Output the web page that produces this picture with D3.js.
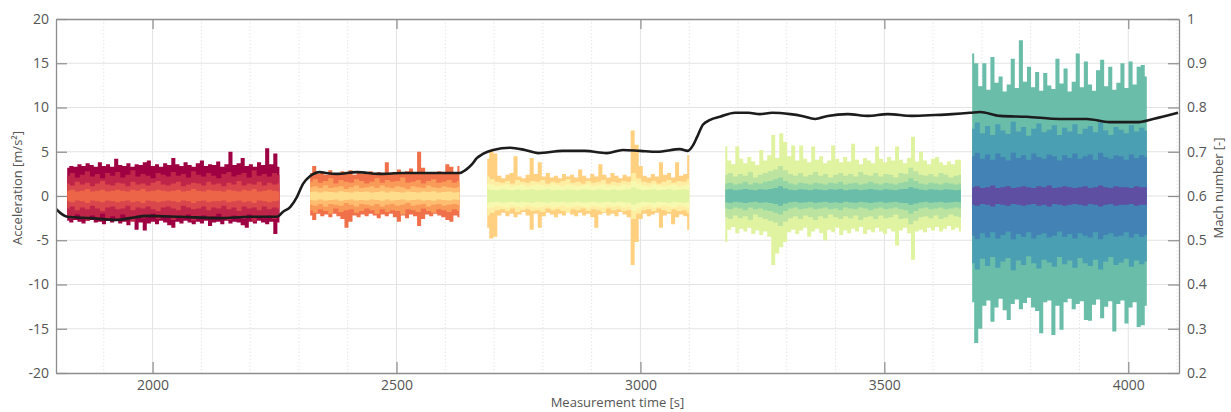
<!DOCTYPE html>
<html>
<head>
<meta charset="utf-8">
<script src="https://cdn.jsdelivr.net/npm/d3@7"></script>
<style>
  html, body { margin: 0; padding: 0; background: #fff; }
  svg text { font-family: "Open Sans", "Noto Sans", sans-serif; fill: #555; }
</style>
</head>
<body>
<svg id="chart" width="1231" height="412"></svg>
<script>
// ---- axes ----
const timeTicks  = [2000, 2500, 3000, 3500, 4000];
const accelTicks = [-20, -15, -10, -5, 0, 5, 10, 15, 20];
const machTicks  = [0.2, 0.3, 0.4, 0.5, 0.6, 0.7, 0.8, 0.9, 1];

// ---- acceleration records: start/end time of each run [s] ----
const b1Span = [1825, 2260];
const b2Span = [2323, 2629];
const b3Span = [2686, 3100];
const b4Span = [3174, 3657];
const b5Span = [3680, 4038];

// outer sensor: upper / lower envelope [m/s²]
const b1Upper = [3.2,3.4,3.3,3.6,3.4,3.7,3.5,3.3,3.8,3.4,3.6,3.3,4.2,3.5,3.4,3.7,3.3,3.6,3.5,3.8,4.0,3.4,3.6,3.3,3.7,3.5,4.3,3.6,3.4,3.8,3.5,3.3,3.7,4.0,3.4,3.6,3.5,3.9,3.3,3.6,5.0,3.5,3.7,4.3,3.4,3.6,3.3,3.8,3.5,5.4,3.6,4.8,3.3];
const b1Lower = [-2.8,-3.0,-2.7,-2.9,-3.1,-2.8,-2.7,-3.0,-2.9,-3.2,-2.8,-3.0,-2.7,-3.1,-2.9,-3.3,-2.8,-3.8,-3.0,-3.9,-3.1,-2.9,-3.2,-2.8,-3.0,-3.3,-3.6,-2.9,-3.1,-2.8,-3.0,-3.2,-2.9,-3.1,-2.8,-3.4,-3.0,-2.9,-3.2,-2.8,-3.1,-2.9,-3.0,-3.3,-3.6,-2.9,-3.1,-2.8,-3.0,-3.2,-2.9,-4.3,-3.0];

const b2Upper = [2.6,3.4,2.5,2.7,2.4,2.9,2.6,2.5,2.8,2.6,2.9,2.4,2.7,2.5,2.6,2.8,2.5,2.7,2.4,3.8,2.6,2.7,3.0,2.5,2.8,3.1,2.6,5.0,3.2,2.6,2.7,2.5,2.8,2.6,3.6,3.3,2.7,3.4];
const b2Lower = [-2.2,-2.7,-2.0,-2.3,-2.1,-2.4,-2.0,-2.3,-2.6,-3.6,-2.9,-2.2,-2.4,-2.1,-2.3,-2.0,-2.2,-2.5,-2.1,-2.3,-2.0,-2.4,-2.9,-2.2,-2.5,-2.1,-2.3,-3.4,-2.6,-2.1,-2.3,-2.0,-2.2,-2.4,-2.7,-2.9,-2.2,-2.4];

const b3Upper = [4.2,5.2,4.8,2.3,2.0,2.4,2.6,4.5,2.2,2.0,2.4,4.3,2.5,3.8,2.2,2.6,2.1,2.3,2.0,2.5,2.2,2.4,2.1,3.0,2.3,2.0,2.5,2.2,3.6,2.4,2.1,2.6,2.3,2.0,2.4,2.2,7.4,5.8,3.4,2.3,2.1,2.5,2.2,3.8,2.4,2.6,2.1,3.8,2.3,2.5,4.6];
const b3Lower = [-3.6,-4.8,-4.6,-2.2,-1.9,-2.3,-2.0,-2.4,-2.1,-1.8,-2.2,-3.8,-2.0,-3.6,-2.3,-1.9,-2.1,-2.4,-2.0,-2.2,-1.8,-2.1,-2.3,-1.9,-2.2,-2.0,-2.4,-3.6,-2.1,-1.9,-2.2,-2.0,-2.3,-1.8,-2.1,-2.4,-7.8,-5.2,-2.6,-2.0,-2.3,-2.1,-1.9,-3.6,-2.2,-2.0,-3.2,-2.4,-2.1,-2.3,-3.8];

const b4Upper = [5.6,4.0,3.6,5.6,4.2,3.7,4.4,3.9,3.5,5.2,4.0,4.6,6.9,4.3,7.1,6.1,4.5,5.7,4.0,5.7,4.2,3.8,5.6,4.1,4.5,3.7,4.0,5.7,4.2,3.8,4.4,3.9,5.9,4.1,3.6,4.3,4.0,3.7,5.6,4.2,3.8,4.4,4.0,5.6,4.1,3.7,4.3,6.7,3.9,5.0,4.0,3.6,4.2,4.4,3.8,3.5,3.9,3.6,4.1,4.1];
const b4Lower = [-5.2,-3.8,-3.5,-4.2,-3.7,-4.0,-3.6,-4.3,-3.9,-4.4,-4.0,-4.6,-7.8,-6.5,-5.8,-5.2,-4.1,-3.8,-4.3,-3.9,-3.6,-4.6,-4.0,-3.7,-4.2,-5.0,-3.8,-4.1,-3.6,-4.4,-3.9,-4.2,-3.7,-4.0,-3.5,-4.3,-3.8,-4.1,-3.6,-4.0,-4.3,-3.7,-4.0,-5.6,-3.9,-3.6,-4.2,-7.2,-4.0,-3.8,-4.1,-3.6,-3.9,-3.5,-4.0,-3.7,-3.4,-3.8,-3.6,-4.0];

const b5Upper = [16.1,15.0,12.4,15.0,12.0,15.7,12.8,13.5,11.8,12.6,15.5,12.2,17.6,12.9,14.6,12.3,14.0,11.9,13.9,12.5,12.1,15.5,12.7,14.4,11.8,12.9,16.1,12.3,15.2,12.6,11.9,14.2,15.4,12.4,14.6,12.0,12.8,15.0,12.2,15.2,12.6,14.6,14.8,13.5];
const b5Lower = [-12.0,-16.6,-15.0,-12.4,-11.8,-14.2,-12.6,-11.6,-12.9,-14.0,-12.2,-11.7,-12.8,-12.1,-11.5,-12.6,-13.0,-15.5,-12.0,-11.8,-15.7,-12.4,-15.1,-12.0,-11.6,-12.8,-12.2,-11.9,-14.0,-14.1,-12.3,-11.7,-13.8,-12.5,-11.9,-15.3,-12.2,-11.8,-14.4,-12.6,-12.0,-14.8,-14.6,-12.4];

// remaining sensors of each run: half-width of their band [m/s²]
const b1Inner = [
  [2.3,2.6,2.1,2.4,2.8,2.2,2.5,2.0,2.6,2.3,2.7,2.1,2.4,2.9,2.2,2.5,2.3,2.0,2.6,2.4,2.2,2.7,2.3,2.5,2.1,2.8,2.4,2.2,2.6,2.3,2.0,2.5,2.7,2.2,2.4,2.6,2.1,2.9,2.3,2.5,2.2,2.6,2.4],
  [1.4,1.2,1.6,1.3,1.5,1.1,1.4,1.7,1.3,1.2,1.5,1.4,1.1,1.6,1.3,1.4,1.2,1.5,1.7,1.3,1.2,1.4,1.6,1.1,1.3,1.5,1.4,1.2,1.6,1.3,1.4,1.1,1.5,1.3,1.7,1.2,1.4,1.3,1.6,1.2,1.5,1.3,1.4],
  [0.6,0.7,0.5,0.6,0.8,0.5,0.6,0.7,0.5,0.6,0.7,0.6,0.5,0.7,0.6,0.8,0.5,0.6,0.7,0.6,0.5,0.6,0.7,0.5,0.6,0.8,0.6,0.5,0.7,0.6,0.6,0.5,0.7,0.6,0.5,0.7,0.6,0.8,0.5,0.6,0.7,0.6,0.5]
];
const b2Inner = [
  [1.6,1.9,1.5,1.7,2.0,1.4,1.8,1.6,1.5,1.9,1.7,1.4,1.6,2.0,1.5,1.8,1.6,1.7,2.1,1.5,1.6,1.8,1.4,1.7,1.9,1.5,1.6,1.8,1.5,1.7],
  [1.0,1.1,0.9,1.2,0.9,1.0,1.1,0.8,1.0,1.2,0.9,1.0,1.1,0.9,1.2,1.0,0.9,1.1,1.0,0.8,1.1,1.0,0.9,1.2,1.0,0.9,1.1,1.0,0.9,1.0],
  [0.45,0.5,0.4,0.5,0.45,0.4,0.55,0.45,0.4,0.5,0.45,0.5,0.4,0.45,0.55,0.4,0.5,0.45,0.4,0.5,0.45,0.4,0.5,0.45,0.55,0.4,0.45,0.5,0.4,0.45]
];
const b3Inner = [
  [2.2,1.9,1.6,1.5,1.7,1.4,1.8,1.6,1.5,1.7,1.6,1.8,1.4,1.6,1.5,1.7,1.9,1.5,1.6,1.4,1.7,1.5,1.6,1.8,1.4,1.6,1.5,1.7,1.6,2.6,2.0,1.6,1.5,1.7,1.4,1.6,1.8,1.5,1.7,1.6,1.9],
  [1.4,1.3,1.1,1.2,1.3,1.1,1.2,1.3,1.1,1.2,1.3,1.2,1.1,1.3,1.2,1.1,1.3,1.2,1.1,1.2,1.3,1.1,1.2,1.3,1.1,1.2,1.1,1.3,1.2,1.7,1.4,1.2,1.1,1.3,1.2,1.1,1.2,1.3,1.1,1.2,1.3],
  [0.75,0.7,0.65,0.75,0.7,0.65,0.75,0.65,0.7,0.75,0.65,0.7,0.75,0.65,0.7,0.65,0.75,0.7,0.65,0.75,0.7,0.65,0.75,0.7,0.65,0.75,0.65,0.7,0.75,0.95,0.75,0.65,0.7,0.75,0.65,0.7,0.75,0.65,0.7,0.75,0.7]
];
const b4Inner = [
  [2.4,2.6,2.2,2.5,2.3,2.7,2.1,2.4,2.6,2.8,3.0,3.4,2.9,2.5,2.3,2.6,2.2,2.4,2.7,2.3,2.5,2.1,2.4,2.6,2.3,2.5,2.2,2.7,2.4,2.3,2.6,2.2,2.5,2.4,2.1,2.6,2.5,3.2,2.8,2.4,2.3,2.5,2.2,2.6,2.4,2.1,2.3,2.4],
  [1.4,1.5,1.3,1.4,1.6,1.3,1.5,1.4,1.6,1.7,1.9,2.1,1.7,1.4,1.3,1.5,1.4,1.3,1.5,1.4,1.3,1.5,1.4,1.6,1.3,1.4,1.5,1.3,1.4,1.6,1.4,1.3,1.5,1.4,1.3,1.5,1.6,2.0,1.7,1.4,1.3,1.5,1.4,1.3,1.5,1.4,1.3,1.4],
  [0.7,0.75,0.65,0.7,0.8,0.7,0.65,0.75,0.7,0.8,0.9,1.1,0.85,0.7,0.65,0.75,0.7,0.65,0.75,0.7,0.65,0.75,0.7,0.8,0.65,0.7,0.75,0.65,0.7,0.8,0.7,0.65,0.75,0.7,0.65,0.75,0.8,1.0,0.85,0.7,0.65,0.75,0.7,0.65,0.75,0.7,0.65,0.7]
];
const b5Inner = [
  [7.6,8.3,7.1,7.9,6.9,8.1,7.4,7.0,8.4,7.3,7.8,6.8,7.6,8.2,7.2,7.5,8.0,6.9,7.7,7.3,8.1,7.0,7.6,7.9,7.2,8.3,7.4,6.9,7.8,7.5,7.1,8.0,7.3,7.7,7.4],
  [4.5,4.9,4.2,4.7,4.1,4.8,4.4,4.0,4.9,4.3,4.6,4.1,4.8,4.4,4.2,4.7,4.5,4.0,4.6,4.3,4.8,4.2,4.5,4.7,4.1,4.9,4.4,4.2,4.6,4.5,4.1,4.7,4.3,4.6,4.4],
  [1.0,1.1,0.9,1.0,1.2,0.9,1.0,1.1,0.9,1.0,1.1,1.0,0.9,1.1,1.0,1.2,0.9,1.0,1.1,1.0,0.9,1.0,1.1,0.9,1.0,1.2,1.0,0.9,1.1,1.0,1.0,0.9,1.1,1.0,1.0]
];

// ---- free-stream Mach number ----
const machTime  = [1802,1814,1825,1872,1927,1954,1989,2056,2138,2200,2255,2267,2282,2296,2308,2323,2343,2355,2378,2419,2466,2513,2569,2630,2642,2655,2665,2677,2698,2733,2763,2790,2841,2886,2931,2964,2999,3034,3081,3097,3108,3116,3128,3143,3163,3194,3221,3245,3270,3307,3331,3358,3384,3425,3466,3507,3557,3604,3639,3676,3696,3737,3792,3860,3915,3962,4018,4051,4102];
const machValue = [0.571,0.559,0.553,0.550,0.546,0.550,0.555,0.553,0.550,0.553,0.553,0.564,0.575,0.598,0.627,0.645,0.654,0.652,0.650,0.654,0.650,0.652,0.652,0.652,0.659,0.672,0.686,0.695,0.704,0.709,0.704,0.697,0.702,0.702,0.697,0.704,0.702,0.700,0.706,0.702,0.715,0.733,0.761,0.772,0.779,0.788,0.788,0.785,0.788,0.785,0.781,0.774,0.781,0.785,0.781,0.785,0.781,0.783,0.785,0.788,0.790,0.781,0.779,0.774,0.774,0.767,0.767,0.774,0.788];

// ---- layout ----
const plot = { left: 56, right: 1179, top: 19, bottom: 373 };

const x  = d3.scaleLinear().domain([1802, 4104]).range([plot.left, plot.right]);
const y  = d3.scaleLinear().domain([-20, 20]).range([plot.bottom, plot.top]);
const yM = d3.scaleLinear().domain([0.2, 1]).range([plot.bottom, plot.top]);

const svg = d3.select("#chart");

svg.append("defs").append("clipPath").attr("id", "plot-clip")
  .append("rect")
  .attr("x", plot.left).attr("y", plot.top)
  .attr("width", plot.right - plot.left).attr("height", plot.bottom - plot.top);

// grid
const grid = svg.append("g");
const minorTimes = d3.range(1900, 4101, 100).filter(t => t % 500 !== 0);
grid.selectAll("line.minor").data(minorTimes).join("line")
  .attr("x1", d => x(d)).attr("x2", d => x(d))
  .attr("y1", plot.top).attr("y2", plot.bottom)
  .attr("stroke", "#e6e6e6").attr("stroke-width", 1).attr("stroke-dasharray", "1.5,2");
grid.selectAll("line.major").data(timeTicks).join("line")
  .attr("x1", d => x(d)).attr("x2", d => x(d))
  .attr("y1", plot.top).attr("y2", plot.bottom)
  .attr("stroke", "#e3e3e3").attr("stroke-width", 1);
grid.selectAll("line.h").data(accelTicks.slice(1, -1)).join("line")
  .attr("x1", plot.left).attr("x2", plot.right)
  .attr("y1", d => y(d)).attr("y2", d => y(d))
  .attr("stroke", "#e3e3e3").attr("stroke-width", 1);

// acceleration records: sensors stacked from the widest band inwards, Spectral colours
const runs = [
  { span: b1Span, upper: b1Upper, lower: b1Lower, inner: b1Inner, tone: [0.00, 0.06, 0.12, 0.18] },
  { span: b2Span, upper: b2Upper, lower: b2Lower, inner: b2Inner, tone: [0.20, 0.27, 0.33, 0.40] },
  { span: b3Span, upper: b3Upper, lower: b3Lower, inner: b3Inner, tone: [0.37, 0.45, 0.52, 0.60] },
  { span: b4Span, upper: b4Upper, lower: b4Lower, inner: b4Inner, tone: [0.60, 0.67, 0.73, 0.80] },
  { span: b5Span, upper: b5Upper, lower: b5Lower, inner: b5Inner, tone: [0.80, 0.86, 0.91, 1.00] }
];

const sig = svg.append("g").attr("clip-path", "url(#plot-clip)");
const times = (span, n) => d3.range(n).map(i => span[0] + i * (span[1] - span[0]) / (n - 1));
const band = d3.area().curve(d3.curveStep)
  .x(d => x(d.t)).y0(d => y(d.lo)).y1(d => y(d.hi));

runs.forEach(run => {
  const g = sig.append("g");
  const tOuter = times(run.span, run.upper.length);
  g.append("path")
    .datum(tOuter.map((t, i) => ({ t, hi: run.upper[i], lo: run.lower[i] })))
    .attr("fill", d3.interpolateSpectral(run.tone[0]))
    .attr("d", band);

  run.inner.forEach((hw, k) => {
    const tb = times(run.span, hw.length);
    g.append("path")
      .datum(tb.map((t, i) => ({ t, hi: hw[i], lo: -hw[i] })))
      .attr("fill", d3.interpolateSpectral(run.tone[k + 1]))
      .attr("d", band);
  });
});

// Mach number trace on the right axis
const mach = machTime.map((t, i) => ({ t, m: machValue[i] }));
sig.append("path")
  .datum(mach)
  .attr("fill", "none")
  .attr("stroke", "#1c1c1c")
  .attr("stroke-width", 2.6)
  .attr("stroke-linejoin", "round")
  .attr("d", d3.line().curve(d3.curveMonotoneX).x(d => x(d.t)).y(d => yM(d.m)));

// axes
const axisColor = "#8d8d8d";
function styleAxis(g) {
  g.select(".domain").attr("stroke", axisColor).attr("stroke-width", 1.3);
  g.selectAll(".tick line").attr("stroke", axisColor).attr("stroke-width", 1.2);
  g.selectAll(".tick text").attr("font-size", 14).attr("fill", "#555");
}

svg.append("g").attr("transform", `translate(0,${plot.bottom})`)
  .call(d3.axisBottom(x).tickValues(timeTicks).tickFormat(d3.format("d"))
    .tickSizeInner(-11).tickSizeOuter(0).tickPadding(7))
  .call(styleAxis);

svg.append("g").attr("transform", `translate(0,${plot.top})`)
  .call(d3.axisTop(x).tickValues(timeTicks).tickFormat("")
    .tickSizeInner(-10).tickSizeOuter(0))
  .call(styleAxis);

svg.append("g").attr("transform", `translate(${plot.left},0)`)
  .call(d3.axisLeft(y).tickValues(accelTicks).tickFormat(d => String(d))
    .tickSizeInner(-11).tickSizeOuter(0).tickPadding(7))
  .call(styleAxis);

svg.append("g").attr("transform", `translate(${plot.right},0)`)
  .call(d3.axisRight(yM).tickValues(machTicks).tickFormat(d => String(+d.toFixed(1)))
    .tickSizeInner(-11).tickSizeOuter(0).tickPadding(8))
  .call(styleAxis);

// axis titles
svg.append("text")
  .attr("x", (plot.left + plot.right) / 2).attr("y", 407)
  .attr("text-anchor", "middle").attr("font-size", 13)
  .text("Measurement time [s]");

svg.append("text")
  .attr("transform", "translate(22,188) rotate(-90)")
  .attr("text-anchor", "middle").attr("font-size", 13)
  .text("Acceleration [m/s²]");

svg.append("text")
  .attr("transform", "translate(1223,188) rotate(-90)")
  .attr("text-anchor", "middle").attr("font-size", 13)
  .text("Mach number [-]");
</script>
</body>
</html>
